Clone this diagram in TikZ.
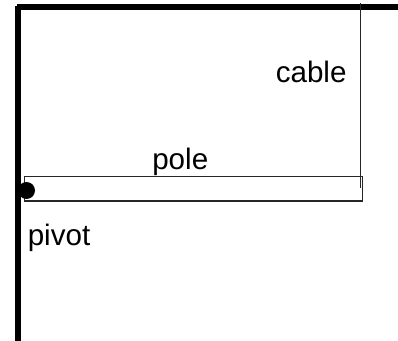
\documentclass[tikz,border=0pt]{standalone}
\usepackage{fontspec}
\setmainfont{Liberation Sans}
\tikzset{
  wall/.style={line width=4.5pt,black,line cap=butt},
  thin line/.style={line width=1.4pt,draw=black!85},
  lbl/.style={inner sep=0pt,font=\fontsize{22.2pt}{24pt}\selectfont,text=black,anchor=base west},
}
\begin{document}
\begin{tikzpicture}[x=0.75pt,y=-0.75pt]
\useasboundingbox (0,0) rectangle (398,341);
\coordinate (wallbottom) at (18,341);
\coordinate (walltop) at (18,6);
\coordinate (barleft) at (17,7);
\coordinate (wallright) at (398,7);
\draw[wall] (wallbottom) -- (walltop);
\draw[wall] (barleft) -- (wallright);
\node[draw=black!85,line width=1.4pt,fill=none,inner sep=0pt,minimum width=253.5pt,minimum height=18.4pt,anchor=north west,outer sep=0pt] (pole) at (24.5,176.5) {};
\coordinate (cabletop) at (360.5,3);
\coordinate (cableend) at (360.5,188);
\draw[thin line] (cabletop) -- (cableend);
\node[circle,fill=black,inner sep=0pt,minimum size=12.75pt] (pivot) at (26.5,190.5) {};
\node[lbl] (cablelabel) at (275.5,83) {cable};
\node[lbl] (polelabel) at (152,170) {pole};
\node[lbl] (pivotlabel) at (27.5,245) {pivot};
\end{tikzpicture}
\end{document}
